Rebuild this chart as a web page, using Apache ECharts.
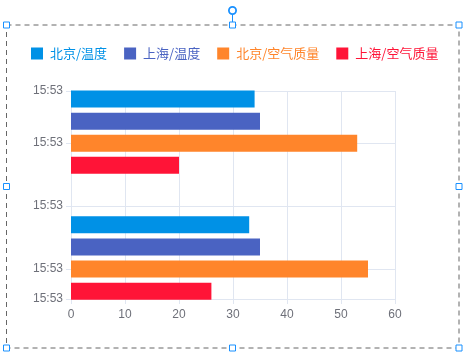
<!DOCTYPE html>
<html>
<head>
<meta charset="utf-8">
<script src="https://cdn.jsdelivr.net/npm/echarts@6/dist/echarts.min.js"></script>
<style>
html,body{margin:0;padding:0;background:#fff;}
#chart{width:465px;height:355px;}
</style>
</head>
<body>
<div id="chart"></div>
<script>
// ---- data ----
var seriesNames = ['北京/温度', '上海/温度', '北京/空气质量', '上海/空气质量'];
var times = ['15:53:08.28', '15:53:28.28'];
var beijingTemp = [34, 33];
var shanghaiTemp = [35, 35];
var beijingAir = [53, 55];
var shanghaiAir = [20, 26];
var axisStart = '15:53:01.73';
var axisEnd = '15:53:34.80';
var colors = ['#0091E6', '#4A63C2', '#FF852B', '#FF1437'];

// seconds since 15:53:00 (base minute)
var baseH = 15, baseM = 53;
function toSec(t) {
  var p = t.split(':');
  return (+p[0] - baseH) * 3600 + (+p[1] - baseM) * 60 + parseFloat(p[2]);
}
function fmt(v) {
  var total = baseH * 60 + baseM + Math.floor(v / 60);
  var h = Math.floor(total / 60), m = total % 60;
  return (h < 10 ? '0' : '') + h + ':' + (m < 10 ? '0' : '') + m;
}
var secList = times.map(toSec);
var seriesValues = [beijingTemp, shanghaiTemp, beijingAir, shanghaiAir];

var chart = echarts.init(document.getElementById('chart'), null, {renderer: 'canvas'});

var handleStyle = {fill: '#fff', stroke: '#1890ff', lineWidth: 1};
var handlePts = [[6.5,25],[232.5,25],[459,25],[6.5,186.5],[459,186.5],[6.5,348],[232.5,348],[459,348]];
var graphics = [{
  type: 'rect', z: 100, silent: true,
  shape: {x: 6.5, y: 25, width: 452.5, height: 323},
  style: {fill: 'none', stroke: '#666', lineWidth: 1, lineDash: [5, 4]}
}, {
  type: 'line', z: 100, silent: true,
  shape: {x1: 232.5, y1: 14.5, x2: 232.5, y2: 22},
  style: {stroke: '#1890ff', lineWidth: 1}
}, {
  type: 'circle', z: 100, silent: true,
  shape: {cx: 232.5, cy: 10.5, r: 3.6},
  style: {fill: '#fff', stroke: '#1890ff', lineWidth: 1.8}
}];
handlePts.forEach(function (p) {
  graphics.push({
    type: 'rect', z: 101, silent: true,
    shape: {x: p[0] - 3, y: p[1] - 3, width: 6, height: 6},
    style: handleStyle
  });
});

// horizontal grouped bars on a time-valued (seconds) y axis
var BAR_W = 17, BAR_GAP = 0.3;
var nSeries = seriesNames.length;
var groupSpan = nSeries * BAR_W + (nSeries - 1) * BAR_W * BAR_GAP;
function makeRender(idx) {
  return function (params, api) {
    var v = api.value(0), t = api.value(1);
    var p0 = api.coord([0, t]);
    var p1 = api.coord([v, t]);
    var y = p0[1] - groupSpan / 2 + idx * BAR_W * (1 + BAR_GAP);
    return {
      type: 'rect',
      shape: {x: p0[0], y: y, width: p1[0] - p0[0], height: BAR_W},
      style: {fill: api.visual('color')}
    };
  };
}

var option = {
  animation: false,
  color: colors,
  textStyle: {fontFamily: 'Liberation Sans, Noto Sans CJK SC, sans-serif'},
  graphic: graphics,
  legend: {
    top: 42,
    left: 26,
    icon: 'rect',
    itemWidth: 12,
    itemHeight: 12,
    itemGap: 17,
    textStyle: {fontSize: 13, fontFamily: 'Noto Sans CJK SC', padding: [0, 0, 0, 2]},
    data: seriesNames.map(function (n, i) {
      return {name: n, textStyle: {color: colors[i]}};
    })
  },
  grid: {left: 71, right: 70, top: 91, bottom: 56, containLabel: false},
  xAxis: {
    type: 'value',
    min: 0, max: 60, interval: 10,
    axisLine: {show: true, lineStyle: {color: '#E0E6F1'}},
    axisTick: {show: true, lineStyle: {color: '#E0E6F1'}},
    axisLabel: {color: '#6E7079', fontSize: 12, margin: 10},
    splitLine: {show: true, lineStyle: {color: '#E0E6F1'}}
  },
  yAxis: {
    type: 'value',
    inverse: true,
    min: toSec(axisStart),
    max: toSec(axisEnd),
    splitNumber: 3,
    axisLine: {show: true, lineStyle: {color: '#E0E6F1'}},
    axisTick: {show: true, lineStyle: {color: '#E0E6F1'}},
    axisLabel: {color: '#6E7079', fontSize: 12, formatter: fmt, showMinLabel: true, showMaxLabel: true},
    splitLine: {show: true, lineStyle: {color: '#E0E6F1'}}
  },
  series: seriesNames.map(function (n, i) {
    return {
      name: n,
      type: 'custom',
      renderItem: makeRender(i),
      encode: {x: 0, y: 1},
      data: secList.map(function (t, j) { return [seriesValues[i][j], t]; })
    };
  })
};
chart.setOption(option);
</script>
</body>
</html>
